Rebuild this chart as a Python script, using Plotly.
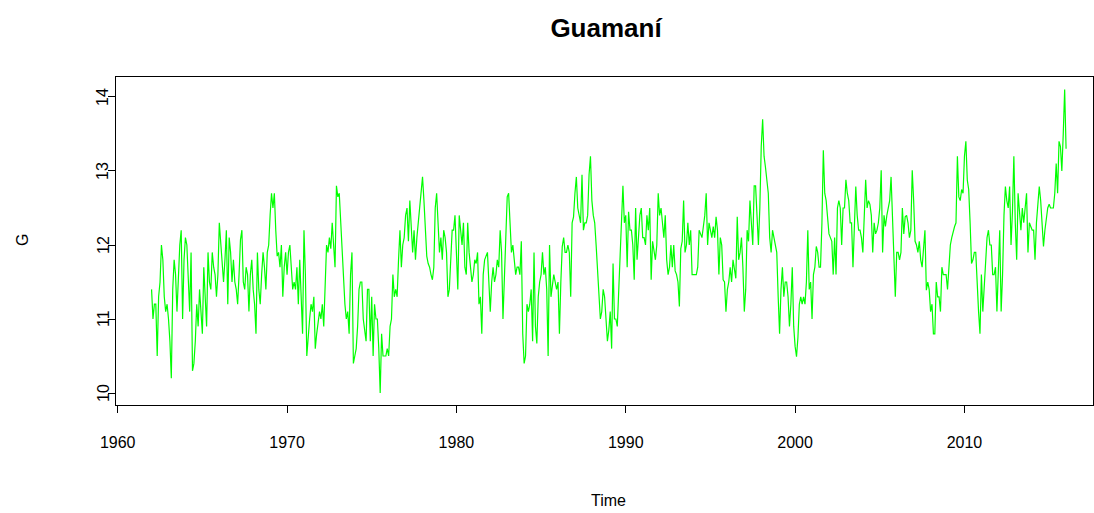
import plotly.graph_objects as go

start_year = 1962
start_month = 1

g_1962_1969 = [
    11.4, 11.0, 11.2, 11.2, 10.5, 11.3, 11.5, 12.0, 11.8, 11.3, 11.1, 11.2,
    11.0, 10.7, 10.2, 11.4, 11.8, 11.6, 11.1, 11.6, 12.0, 12.2, 11.0, 11.8,
    12.1, 12.0, 11.5, 11.1, 11.9, 10.3, 10.4, 10.7, 11.2, 10.9, 11.4, 11.1,
    10.8, 11.7, 11.3, 10.9, 11.9, 11.5, 11.4, 11.9, 11.7, 11.6, 11.3, 11.6,
    12.3, 12.0, 11.7, 11.5, 11.8, 12.2, 11.2, 12.1, 11.9, 11.5, 11.8, 11.5,
    11.4, 11.2, 11.6, 12.07, 12.2, 11.5, 11.4, 11.7, 11.6, 11.1, 11.6, 11.8,
    11.4, 11.2, 10.8, 11.9, 11.4, 11.2, 11.6, 11.9, 11.7, 11.4, 11.9, 12.0,
    12.4, 12.7, 12.5, 12.7, 12.2, 11.85, 11.9, 11.7, 12.0, 11.3, 11.7, 11.9,
]
g_1970_1979 = [
    11.6, 11.9, 12.0, 11.7, 11.4, 11.5, 11.4, 11.7, 11.2, 11.8, 11.2, 10.8,
    12.2, 11.6, 10.5, 10.8, 11.0, 11.2, 11.1, 11.3, 10.6, 10.8, 11.0, 11.1,
    11.0, 11.2, 10.9, 11.6, 12.0, 11.9, 12.1, 11.95, 12.3, 12.0, 11.7, 12.8,
    12.65, 12.7, 12.3, 11.8, 11.6, 11.2, 11.0, 11.1, 10.8, 11.6, 11.9, 10.4,
    10.5, 10.6, 10.9, 11.4, 11.5, 11.5, 11.0, 10.8, 10.7, 11.4, 11.4, 10.7,
    11.3, 10.5, 11.2, 11.0, 11.0, 10.6, 10.0, 10.8, 10.5, 10.5, 10.5, 10.6,
    10.5, 10.9, 11.0, 11.6, 11.3, 11.4, 11.3, 11.8, 12.2, 11.7, 12.0, 12.1,
    12.4, 12.5, 12.05, 12.6, 12.3, 11.9, 12.2, 11.8, 12.1, 12.3, 12.6, 12.7,
    12.92, 12.6, 12.3, 11.85, 11.75, 11.7, 11.6, 11.53, 11.7, 12.5, 12.7, 12.3,
    11.9, 12.1, 11.8, 12.2, 12.1, 11.9, 11.3, 11.4, 11.8, 12.2, 12.2, 12.4,
]
g_1980_1989 = [
    11.9, 11.4, 12.4, 12.2, 12.0, 12.3, 11.7, 11.6, 12.3, 11.9, 11.7, 11.5,
    11.6, 11.8, 11.75, 11.9, 11.2, 11.3, 10.8, 11.6, 11.8, 11.85, 11.9, 11.5,
    11.1, 11.5, 11.7, 11.5, 11.6, 11.8, 11.7, 12.2, 11.9, 11.0, 11.7, 12.1,
    12.65, 12.7, 12.3, 11.9, 12.0, 11.8, 11.6, 11.7, 11.7, 11.6, 12.05, 10.8,
    10.4, 10.5, 11.2, 11.1, 11.2, 11.4, 10.7, 11.9, 10.9, 10.67, 11.3, 11.5,
    11.6, 11.9, 11.6, 11.7, 11.4, 10.5, 12.0, 11.3, 11.5, 11.6, 11.5, 11.4,
    11.5, 10.8, 11.5, 11.98, 12.1, 11.9, 11.9, 12.0, 11.9, 11.3, 12.3, 12.38,
    12.7, 12.92, 12.5, 12.4, 12.3, 12.95, 12.2, 12.3, 12.3, 12.4, 12.95, 13.2,
    12.6, 12.4, 12.3, 12.0, 11.7, 11.4, 11.0, 11.1, 11.4, 11.3, 11.0, 10.7,
    10.85, 11.1, 10.6, 11.75, 11.0, 11.0, 10.9, 11.4, 12.0, 12.3, 12.8, 12.3,
]
g_1990_1999 = [
    12.4, 11.7, 12.45, 12.2, 12.2, 12.0, 11.53, 12.5, 11.8, 12.1, 12.4, 12.5,
    12.1, 12.1, 12.0, 12.4, 12.2, 12.5, 11.53, 12.05, 11.9, 11.8, 12.0, 12.7,
    12.4, 12.5, 12.3, 12.1, 12.4, 11.8, 11.6, 11.7, 12.0, 11.7, 12.0, 11.65,
    11.6, 11.5, 11.17, 11.95, 12.05, 12.6, 11.9, 12.0, 12.3, 12.0, 12.2, 11.6,
    11.6, 11.6, 11.6, 11.7, 12.2, 12.15, 12.1, 12.25, 12.4, 12.7, 12.0, 12.3,
    12.2, 12.1, 12.25, 12.1, 12.38, 12.2, 11.6, 12.1, 12.0, 11.53, 11.5, 11.1,
    11.4, 11.5, 11.7, 11.5, 11.8, 11.7, 11.55, 12.38, 11.8, 11.9, 12.1, 11.7,
    11.1, 11.4, 12.2, 12.05, 12.6, 12.3, 12.0, 12.8, 12.8, 12.4, 12.0, 12.5,
    13.33, 13.7, 13.2, 13.05, 12.9, 12.7, 12.1, 11.9, 12.2, 12.1, 12.0, 11.9,
    11.3, 10.8, 11.4, 11.7, 11.3, 11.5, 11.5, 11.3, 10.9, 11.2, 11.7, 10.9,
]
g_2000_2009 = [
    10.63, 10.49, 10.75, 11.2, 11.3, 11.2, 11.3, 11.2, 11.5, 12.2, 11.4, 11.5,
    11.0, 11.6, 11.7, 11.98, 11.9, 11.7, 11.7, 12.29, 13.28, 12.7, 12.6, 12.4,
    12.15, 12.1, 12.05, 11.6, 12.1, 11.6, 12.5, 12.6, 12.5, 12.0, 12.5, 12.5,
    12.88, 12.7, 12.6, 12.3, 12.3, 11.7, 12.4, 12.79, 12.4, 12.2, 12.2, 12.1,
    11.9, 12.5, 12.88, 12.5, 12.6, 12.55, 12.4, 11.9, 12.3, 12.15, 12.2, 12.3,
    12.5, 13.01, 11.9, 12.4, 12.25, 12.4, 12.5, 12.6, 12.92, 12.4, 11.9, 11.3,
    11.9, 11.9, 11.8, 11.9, 12.5, 12.15, 12.38, 12.4, 12.3, 12.1, 12.2, 13.01,
    12.6, 12.05, 12.0, 11.9, 12.05, 11.8, 11.7, 11.9, 12.2, 11.39, 11.5, 11.4,
    11.1, 11.2, 10.8, 10.8, 11.5, 11.3, 11.3, 11.1, 11.7, 11.6, 11.6, 11.6,
    11.4, 11.8, 12.0, 12.1, 12.2, 12.25, 12.3, 13.2, 12.65, 12.6, 12.75, 12.7,
]
g_2010_2016 = [
    13.2, 13.4, 12.88, 12.75, 12.3, 11.75, 11.8, 11.9, 11.9, 11.4, 11.1, 10.8,
    11.6, 11.1, 11.48, 11.7, 12.1, 12.2, 12.0, 12.0, 11.6, 11.6, 11.7, 11.1,
    11.8, 12.2, 11.1, 11.6, 12.4, 12.79, 12.6, 12.5, 12.79, 12.0, 12.45, 13.2,
    12.3, 11.8, 12.7, 12.45, 12.2, 12.5, 12.3, 12.5, 12.7, 11.9, 12.3, 12.25,
    12.2, 12.2, 11.8, 12.3, 12.5, 12.79, 12.6, 12.3, 11.98, 12.2, 12.38, 12.5,
    12.55, 12.5, 12.5, 12.5, 12.7, 13.1, 12.7, 13.4, 13.33, 13.0, 13.5, 14.1,
    13.3,
]

x_ticks = [1960, 1970, 1980, 1990, 2000, 2010]
y_ticks = [10, 11, 12, 13, 14]

values = g_1962_1969 + g_1970_1979 + g_1980_1989 + g_1990_1999 + g_2000_2009 + g_2010_2016
times = [start_year + (start_month - 1 + i) / 12 for i in range(len(values))]

FONT = "Liberation Sans, Arial, sans-serif"

fig = go.Figure()
fig.add_trace(go.Scatter(x=times, y=values, mode="lines",
                         line=dict(color="#00FF00", width=1.2),
                         showlegend=False, hoverinfo="skip"))

L, R, T, B = 116, 1, 77, 108
W, H = 1094, 513
pw, ph = W - L - R, H - T - B

annotations = [
    dict(text="Time", x=(608 - L) / pw, y=-(500 - (T + ph)) / ph, xref="paper", yref="paper",
         showarrow=False, xanchor="center", yanchor="middle",
         font=dict(family=FONT, size=16, color="black")),
    dict(text="G", x=(22 - L) / pw, y=(T + ph - 240) / ph, xref="paper", yref="paper",
         showarrow=False, xanchor="center", yanchor="middle", textangle=-90,
         font=dict(family=FONT, size=16, color="black")),
]
for v in y_ticks:
    annotations.append(dict(text=str(v), x=(103 - L) / pw, y=v, xref="paper", yref="y",
                            showarrow=False, xanchor="center", yanchor="middle", textangle=-90,
                            font=dict(family=FONT, size=16, color="black")))

fig.update_layout(
    width=W, height=H,
    margin=dict(l=L, r=R, t=T, b=B, pad=0),
    paper_bgcolor="white", plot_bgcolor="white",
    font=dict(family=FONT, size=16, color="black"),
    title=dict(text="<b>Guamaní</b>", x=606 / W, y=1 - 28 / H,
               xanchor="center", yanchor="middle", xref="container",
               yref="container", font=dict(family=FONT, size=26, color="black")),
    xaxis=dict(range=[1959.90, 2017.59], tickvals=x_ticks, ticktext=[str(v) for v in x_ticks],
               showgrid=False, zeroline=False, showline=True, mirror=True,
               linecolor="black", linewidth=1, ticks="outside", ticklen=7,
               tickcolor="black", tickwidth=1, ticklabelstandoff=16,
               tickfont=dict(family=FONT, size=16, color="black")),
    yaxis=dict(range=[9.838, 14.27], tickvals=y_ticks, showticklabels=False,
               showgrid=False, zeroline=False, showline=True, mirror=True,
               linecolor="black", linewidth=1, ticks="outside", ticklen=7,
               tickcolor="black", tickwidth=1),
    annotations=annotations,
)

fig.write_html("out.html")
